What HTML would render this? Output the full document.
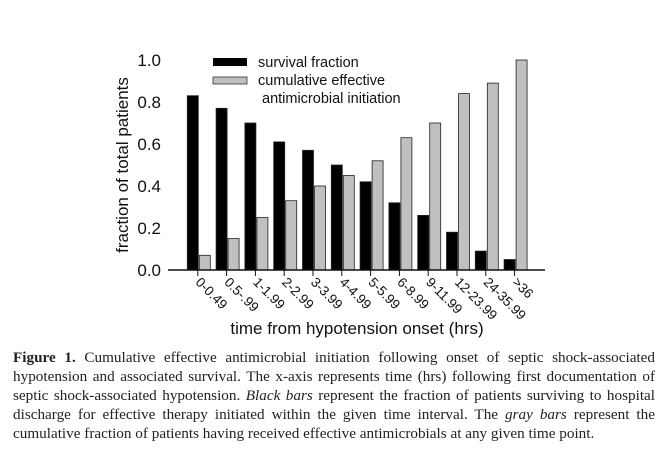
<!DOCTYPE html>
<html><head><style>
body{margin:0;background:#fff;width:664px;height:460px;overflow:hidden;position:relative}
.cap{position:absolute;left:13px;width:642px;font-family:"Liberation Serif",serif;font-size:15.2px;color:#222;text-align:justify;text-align-last:justify;white-space:nowrap;line-height:19px}
</style></head><body>
<svg width="664" height="345" style="position:absolute;left:0;top:0" font-family="Liberation Sans, sans-serif">
<g font-size="17" text-anchor="end" fill="#111">
<text x="161" y="66">1.0</text><text x="161" y="108">0.8</text><text x="161" y="150">0.6</text><text x="161" y="192">0.4</text><text x="161" y="234">0.2</text><text x="161" y="276">0.0</text>
</g>
<text transform="translate(128,165) rotate(-90)" font-size="17" text-anchor="middle" fill="#111">fraction of total patients</text>
<g id="bars" stroke="#222" stroke-width="0.8"></g>
<line x1="168" y1="270" x2="545" y2="270" stroke="#111" stroke-width="1.5"/>
<g id="ticks" stroke="#111" stroke-width="1"></g>
<g id="xl" font-size="13.5" fill="#111"></g>
<rect x="213" y="58" width="34" height="8" fill="#000"/>
<rect x="213" y="77" width="34" height="7" fill="#c0c0c0" stroke="#333" stroke-width="0.8"/>
<g font-size="14.5" fill="#111"><text x="258" y="67">survival fraction</text><text x="258" y="85">cumulative effective</text><text x="262" y="103">antimicrobial initiation</text></g>
<text x="357" y="334" font-size="17" text-anchor="middle" fill="#111">time from hypotension onset (hrs)</text>
</svg>
<div class="cap" style="top:348px"><b>Figure 1.</b> Cumulative effective antimicrobial initiation following onset of septic shock-associated</div>
<div class="cap" style="top:367px">hypotension and associated survival. The x-axis represents time (hrs) following first documentation of</div>
<div class="cap" style="top:386px">septic shock-associated hypotension. <i>Black bars</i> represent the fraction of patients surviving to hospital</div>
<div class="cap" style="top:405px">discharge for effective therapy initiated within the given time interval. The <i>gray bars</i> represent the</div>
<div class="cap" style="top:424px;text-align-last:left">cumulative fraction of patients having received effective antimicrobials at any given time point.</div>
<script>
var b=[0.83,0.77,0.70,0.61,0.57,0.50,0.42,0.32,0.26,0.18,0.09,0.05],g=[0.07,0.15,0.25,0.33,0.40,0.45,0.52,0.63,0.70,0.84,0.89,1.0];
var L=["0-0.49","0.5-.99","1-1.99","2-2.99","3-3.99","4-4.99","5-5.99","6-8.99","9-11.99","12-23.99","24-35.99",">36"];
var ns="http://www.w3.org/2000/svg",s="";
var bars=document.getElementById("bars"),t="",x="";
for(var i=0;i<12;i++){var x0=187.3+28.8*i;
t+='<rect x="'+x0+'" y="'+(270-210*b[i])+'" width="11" height="'+(210*b[i])+'" fill="#000"/>';
t+='<rect x="'+(x0+12)+'" y="'+(270-210*g[i])+'" width="11" height="'+(210*g[i])+'" fill="#c0c0c0"/>';
var tx=x0+10.5;s+='<line x1="'+tx+'" y1="270" x2="'+tx+'" y2="276"/>';
x+='<text transform="translate('+(tx-3)+',283) rotate(45)">'+L[i].replace(">","&gt;")+'</text>';}
bars.innerHTML=t;document.getElementById("ticks").innerHTML=s;document.getElementById("xl").innerHTML=x;
</script>
</body></html>
